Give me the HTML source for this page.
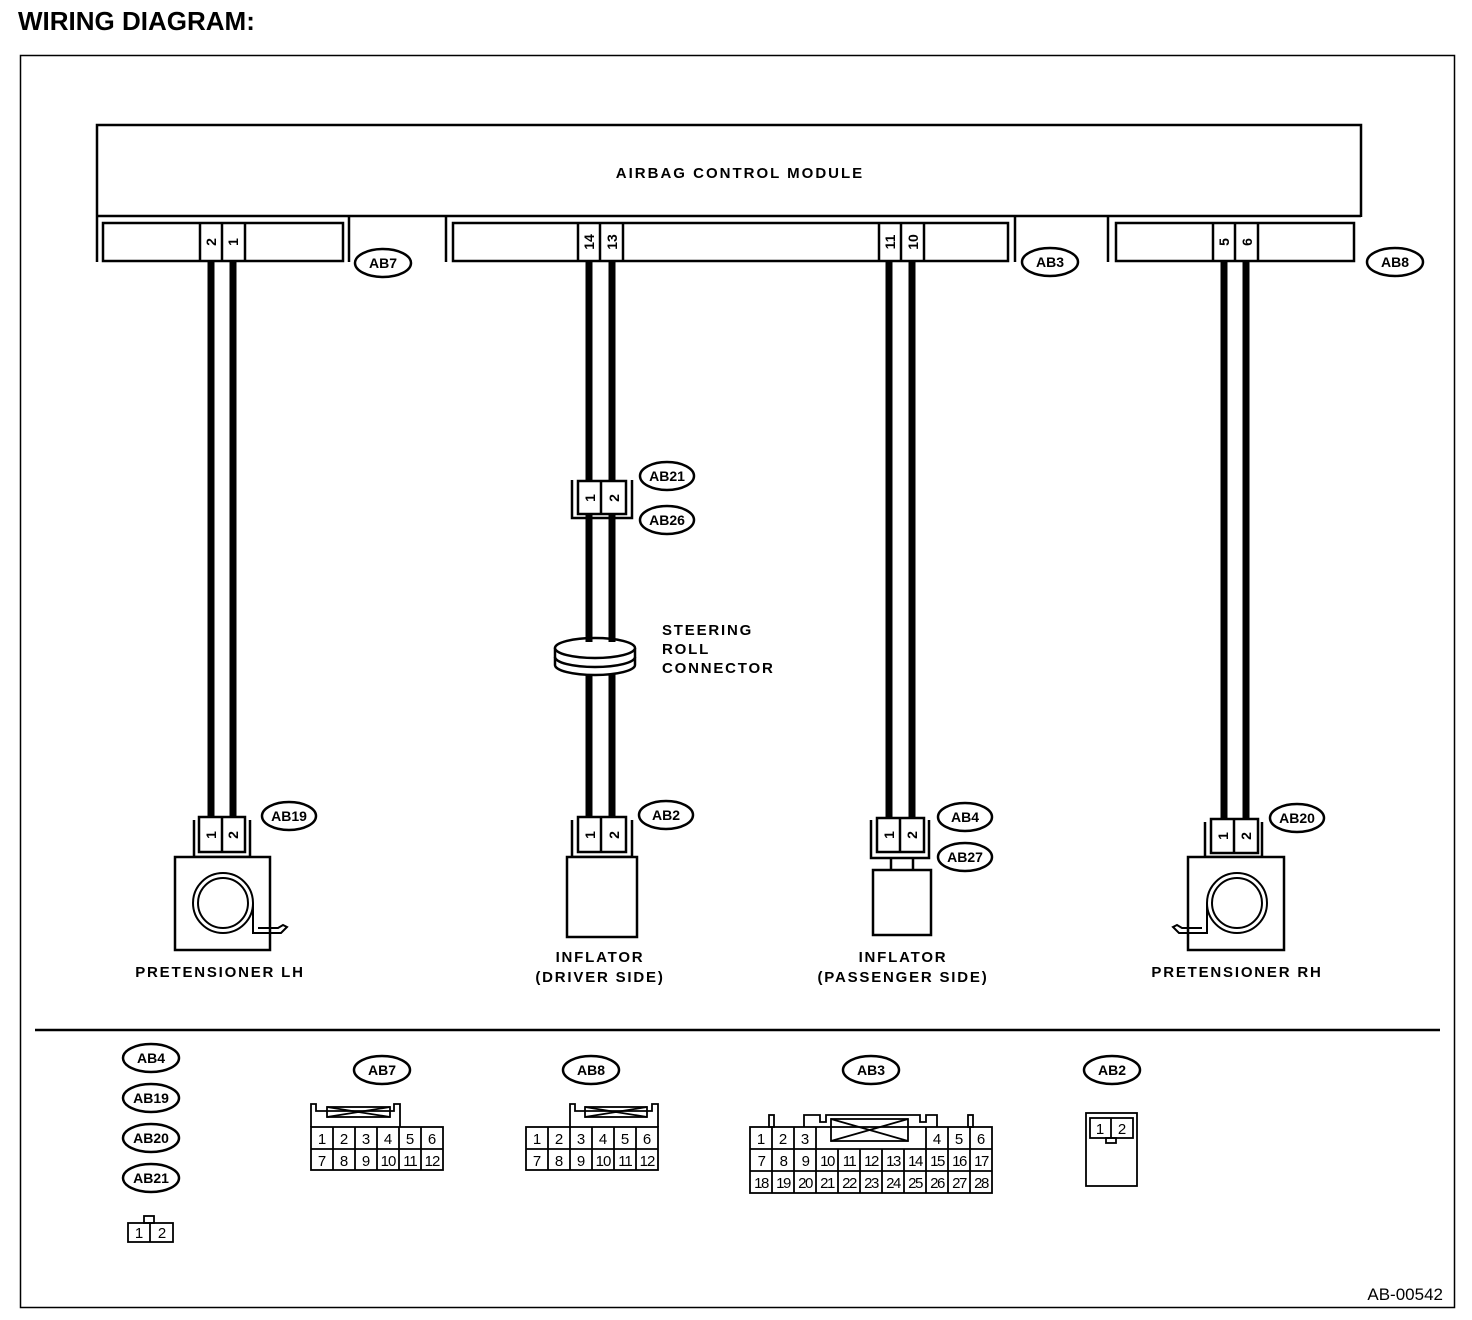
<!DOCTYPE html>
<html><head><meta charset="utf-8"><style>
html,body{margin:0;padding:0;background:#fff}
svg{display:block}
text{font-family:"Liberation Sans",sans-serif;fill:#000}
.b{font-weight:bold}
</style></head><body>
<svg width="1472" height="1320" viewBox="0 0 1472 1320" xmlns="http://www.w3.org/2000/svg">
<text x="18" y="30" font-size="26" class="b">WIRING DIAGRAM:</text>
<rect x="20.5" y="55.5" width="1434" height="1252" fill="none" stroke="#000" stroke-width="1.5"/>

<g fill="none" stroke="#000" stroke-width="2.5">
<polyline points="97,262 97,125 1361,125 1361,217"/>
<line x1="97" y1="216" x2="1361" y2="216"/>
<line x1="349" y1="216" x2="349" y2="262"/>
<line x1="446" y1="216" x2="446" y2="262"/>
<line x1="1015" y1="216" x2="1015" y2="262"/>
<line x1="1108" y1="216" x2="1108" y2="262"/>
<rect x="103" y="223" width="240" height="38"/>
<rect x="453" y="223" width="555" height="38"/>
<rect x="1116" y="223" width="238" height="38"/>
<line x1="200" y1="223" x2="200" y2="261"/><line x1="222" y1="223" x2="222" y2="261"/><line x1="245" y1="223" x2="245" y2="261"/>
<line x1="578" y1="223" x2="578" y2="261"/><line x1="600" y1="223" x2="600" y2="261"/><line x1="623" y1="223" x2="623" y2="261"/>
<line x1="879" y1="223" x2="879" y2="261"/><line x1="901" y1="223" x2="901" y2="261"/><line x1="924" y1="223" x2="924" y2="261"/>
<line x1="1213" y1="223" x2="1213" y2="261"/><line x1="1235" y1="223" x2="1235" y2="261"/><line x1="1258" y1="223" x2="1258" y2="261"/>
</g>
<text x="740" y="178" font-size="15" class="b" text-anchor="middle" letter-spacing="2">AIRBAG CONTROL MODULE</text>
<g font-size="14" class="b" text-anchor="middle">
<text transform="translate(216,242) rotate(-90)">2</text>
<text transform="translate(238,242) rotate(-90)">1</text>
<text transform="translate(594,242) rotate(-90)">14</text>
<text transform="translate(617,242) rotate(-90)">13</text>
<text transform="translate(895,242) rotate(-90)">11</text>
<text transform="translate(918,242) rotate(-90)">10</text>
<text transform="translate(1229,242) rotate(-90)">5</text>
<text transform="translate(1252,242) rotate(-90)">6</text>
</g>

<g stroke="#000" stroke-width="7">
<line x1="211" y1="261" x2="211" y2="817"/><line x1="233" y1="261" x2="233" y2="817"/>
<line x1="589" y1="261" x2="589" y2="640"/><line x1="612" y1="261" x2="612" y2="640"/>
<line x1="589" y1="670" x2="589" y2="817"/><line x1="612" y1="670" x2="612" y2="817"/>
<line x1="889" y1="261" x2="889" y2="818"/><line x1="912" y1="261" x2="912" y2="818"/>
<line x1="1224" y1="261" x2="1224" y2="820"/><line x1="1246" y1="261" x2="1246" y2="820"/>
</g>

<g fill="#fff" stroke="#000" stroke-width="2.5">
<polyline fill="none" points="572,480 572,518 632,518 632,480"/>
<rect x="578" y="481" width="48" height="33"/>
<line x1="601" y1="481" x2="601" y2="514"/>
</g>
<g font-size="14" class="b" text-anchor="middle">
<text transform="translate(595,498) rotate(-90)">1</text>
<text transform="translate(619,498) rotate(-90)">2</text>
</g>

<g fill="#fff" stroke="#000" stroke-width="2.5">
<path d="M555,648 L555,665 A40,10 0 0 0 635,665 L635,648"/>
<path d="M555,657 A40,10 0 0 0 635,657" fill="none"/>
<ellipse cx="595" cy="648" rx="40" ry="10"/>
</g>
<g stroke="#000" stroke-width="7"><line x1="589" y1="630" x2="589" y2="642"/><line x1="612" y1="630" x2="612" y2="642"/></g>
<g font-size="15" class="b" letter-spacing="1.8">
<text x="662" y="635">STEERING</text>
<text x="662" y="654">ROLL</text>
<text x="662" y="673">CONNECTOR</text>
</g>

<g fill="#fff" stroke="#000" stroke-width="2.5">
<polyline fill="none" points="194,820 194,857 250,857 250,820"/>
<rect x="199" y="817" width="46" height="35"/><line x1="222" y1="817" x2="222" y2="852"/>
<rect x="175" y="857" width="95" height="93"/>
<circle cx="223" cy="903" r="30" fill="none" stroke-width="2"/>
<circle cx="223" cy="903" r="25" fill="none" stroke-width="2"/>
<polyline fill="none" points="572,820 572,857 632,857 632,820"/>
<rect x="578" y="817" width="48" height="35"/><line x1="601" y1="817" x2="601" y2="852"/>
<rect x="567" y="857" width="70" height="80"/>
<polyline fill="none" points="871,820 871,858 929,858 929,820"/>
<rect x="877" y="818" width="47" height="34"/><line x1="900" y1="818" x2="900" y2="852"/>
<line x1="891" y1="858" x2="891" y2="870"/><line x1="913" y1="858" x2="913" y2="870"/>
<rect x="873" y="870" width="58" height="65"/>
<polyline fill="none" points="1205,822 1205,857 1262,857 1262,822"/>
<rect x="1211" y="819" width="47" height="34"/><line x1="1234" y1="819" x2="1234" y2="853"/>
<rect x="1188" y="857" width="96" height="93"/>
<circle cx="1237" cy="903" r="30" fill="none" stroke-width="2"/>
<circle cx="1237" cy="903" r="25" fill="none" stroke-width="2"/>
</g>
<g fill="none" stroke="#000" stroke-width="2">
<path d="M253,903 L253,933 L281,933 L287,927 L283,925 L278,928 L258,928"/>
<path d="M1207,903 L1207,933 L1179,933 L1173,927 L1177,925 L1182,928 L1202,928"/>
</g>
<g font-size="14" class="b" text-anchor="middle">
<text transform="translate(216,835) rotate(-90)">1</text>
<text transform="translate(238,835) rotate(-90)">2</text>
<text transform="translate(595,835) rotate(-90)">1</text>
<text transform="translate(619,835) rotate(-90)">2</text>
<text transform="translate(894,835) rotate(-90)">1</text>
<text transform="translate(917,835) rotate(-90)">2</text>
<text transform="translate(1228,836) rotate(-90)">1</text>
<text transform="translate(1251,836) rotate(-90)">2</text>
</g>
<g font-size="15" class="b" text-anchor="middle" letter-spacing="1.8">
<text x="220" y="977">PRETENSIONER LH</text>
<text x="600" y="962">INFLATOR</text>
<text x="600" y="982">(DRIVER SIDE)</text>
<text x="903" y="962">INFLATOR</text>
<text x="903" y="982">(PASSENGER SIDE)</text>
<text x="1237" y="977">PRETENSIONER RH</text>
</g>

<g fill="#fff" stroke="#000" stroke-width="2.5">
<ellipse cx="383" cy="263" rx="28" ry="14"/>
<ellipse cx="1050" cy="262" rx="28" ry="14"/>
<ellipse cx="1395" cy="262" rx="28" ry="14"/>
<ellipse cx="667" cy="476" rx="27" ry="14"/>
<ellipse cx="667" cy="520" rx="27" ry="14"/>
<ellipse cx="289" cy="816" rx="27" ry="14"/>
<ellipse cx="666" cy="815" rx="27" ry="14"/>
<ellipse cx="965" cy="817" rx="27" ry="14"/>
<ellipse cx="965" cy="857" rx="27" ry="14"/>
<ellipse cx="1297" cy="818" rx="27" ry="14"/>
<ellipse cx="151" cy="1058" rx="28" ry="14"/>
<ellipse cx="151" cy="1098" rx="28" ry="14"/>
<ellipse cx="151" cy="1138" rx="28" ry="14"/>
<ellipse cx="151" cy="1178" rx="28" ry="14"/>
<ellipse cx="382" cy="1070" rx="28" ry="14"/>
<ellipse cx="591" cy="1070" rx="28" ry="14"/>
<ellipse cx="871" cy="1070" rx="28" ry="14"/>
<ellipse cx="1112" cy="1070" rx="28" ry="14"/>
</g>
<g font-size="14" class="b" text-anchor="middle">
<text x="383" y="268">AB7</text>
<text x="1050" y="267">AB3</text>
<text x="1395" y="267">AB8</text>
<text x="667" y="481">AB21</text>
<text x="667" y="525">AB26</text>
<text x="289" y="821">AB19</text>
<text x="666" y="820">AB2</text>
<text x="965" y="822">AB4</text>
<text x="965" y="862">AB27</text>
<text x="1297" y="823">AB20</text>
<text x="151" y="1063">AB4</text>
<text x="151" y="1103">AB19</text>
<text x="151" y="1143">AB20</text>
<text x="151" y="1183">AB21</text>
<text x="382" y="1075">AB7</text>
<text x="591" y="1075">AB8</text>
<text x="871" y="1075">AB3</text>
<text x="1112" y="1075">AB2</text>
</g>

<line x1="35" y1="1030" x2="1440" y2="1030" stroke="#000" stroke-width="2.5"/>

<g fill="none" stroke="#000" stroke-width="1.8">
<rect x="128" y="1223" width="45" height="19"/><line x1="150" y1="1223" x2="150" y2="1242"/>
<rect x="144" y="1216" width="10" height="7"/>
<rect x="311" y="1127" width="132" height="43"/>
<line x1="311" y1="1149" x2="443" y2="1149"/>
<line x1="333" y1="1127" x2="333" y2="1170"/><line x1="355" y1="1127" x2="355" y2="1170"/><line x1="377" y1="1127" x2="377" y2="1170"/><line x1="399" y1="1127" x2="399" y2="1170"/><line x1="421" y1="1127" x2="421" y2="1170"/>
<polyline points="311,1127 311,1104 316,1104 316,1111 394,1111 394,1104 400,1104 400,1127"/>
<rect x="327" y="1107" width="63" height="10"/><path d="M327,1107 L390,1117 M327,1117 L390,1107"/>
<rect x="526" y="1127" width="132" height="43"/>
<line x1="526" y1="1149" x2="658" y2="1149"/>
<line x1="548" y1="1127" x2="548" y2="1170"/><line x1="570" y1="1127" x2="570" y2="1170"/><line x1="592" y1="1127" x2="592" y2="1170"/><line x1="614" y1="1127" x2="614" y2="1170"/><line x1="636" y1="1127" x2="636" y2="1170"/>
<polyline points="570,1127 570,1104 575,1104 575,1111 652,1111 652,1104 658,1104 658,1127"/>
<rect x="585" y="1107" width="62" height="10"/><path d="M585,1107 L647,1117 M585,1117 L647,1107"/>
<rect x="750" y="1127" width="242" height="66"/>
<line x1="750" y1="1149" x2="992" y2="1149"/><line x1="750" y1="1171" x2="992" y2="1171"/>
<line x1="772" y1="1127" x2="772" y2="1193"/><line x1="794" y1="1127" x2="794" y2="1193"/><line x1="816" y1="1127" x2="816" y2="1193"/>
<line x1="838" y1="1149" x2="838" y2="1193"/><line x1="860" y1="1149" x2="860" y2="1193"/><line x1="882" y1="1149" x2="882" y2="1193"/><line x1="904" y1="1149" x2="904" y2="1193"/>
<line x1="926" y1="1127" x2="926" y2="1193"/><line x1="948" y1="1127" x2="948" y2="1193"/><line x1="970" y1="1127" x2="970" y2="1193"/>
<rect x="769" y="1115" width="5" height="12"/><rect x="968" y="1115" width="5" height="12"/>
<polyline points="804,1127 804,1115 820,1115 820,1122 826,1122 826,1115 920,1115 920,1122 926,1122 926,1115 937,1115 937,1127"/>
<rect x="831" y="1119" width="77" height="22"/><path d="M831,1119 L908,1141 M831,1141 L908,1119"/>
<rect x="1086" y="1113" width="51" height="73"/>
<rect x="1090" y="1118" width="43" height="20"/><line x1="1111" y1="1118" x2="1111" y2="1138"/>
<rect x="1106" y="1138" width="10" height="5"/>
</g>
<g font-size="15" text-anchor="middle">
<text x="139" y="1238">1</text><text x="162" y="1238">2</text>
<text x="322" y="1144">1</text><text x="344" y="1144">2</text><text x="366" y="1144">3</text><text x="388" y="1144">4</text><text x="410" y="1144">5</text><text x="432" y="1144">6</text>
<text x="322" y="1166">7</text><text x="344" y="1166">8</text><text x="366" y="1166">9</text><text x="388" y="1166" letter-spacing="-1">10</text><text x="410" y="1166" letter-spacing="-1">11</text><text x="432" y="1166" letter-spacing="-1">12</text>
<text x="537" y="1144">1</text><text x="559" y="1144">2</text><text x="581" y="1144">3</text><text x="603" y="1144">4</text><text x="625" y="1144">5</text><text x="647" y="1144">6</text>
<text x="537" y="1166">7</text><text x="559" y="1166">8</text><text x="581" y="1166">9</text><text x="603" y="1166" letter-spacing="-1">10</text><text x="625" y="1166" letter-spacing="-1">11</text><text x="647" y="1166" letter-spacing="-1">12</text>
<text x="761" y="1144">1</text><text x="783" y="1144">2</text><text x="805" y="1144">3</text><text x="937" y="1144">4</text><text x="959" y="1144">5</text><text x="981" y="1144">6</text>
<g letter-spacing="-1.5">
<text x="761" y="1166">7</text><text x="783" y="1166">8</text><text x="805" y="1166">9</text><text x="827" y="1166">10</text><text x="849" y="1166">11</text><text x="871" y="1166">12</text><text x="893" y="1166">13</text><text x="915" y="1166">14</text><text x="937" y="1166">15</text><text x="959" y="1166">16</text><text x="981" y="1166">17</text>
<text x="761" y="1188">18</text><text x="783" y="1188">19</text><text x="805" y="1188">20</text><text x="827" y="1188">21</text><text x="849" y="1188">22</text><text x="871" y="1188">23</text><text x="893" y="1188">24</text><text x="915" y="1188">25</text><text x="937" y="1188">26</text><text x="959" y="1188">27</text><text x="981" y="1188">28</text>
</g>
<text x="1100" y="1134">1</text><text x="1122" y="1134">2</text>
</g>
<text x="1443" y="1300" font-size="17" text-anchor="end">AB-00542</text>
</svg>
</body></html>
